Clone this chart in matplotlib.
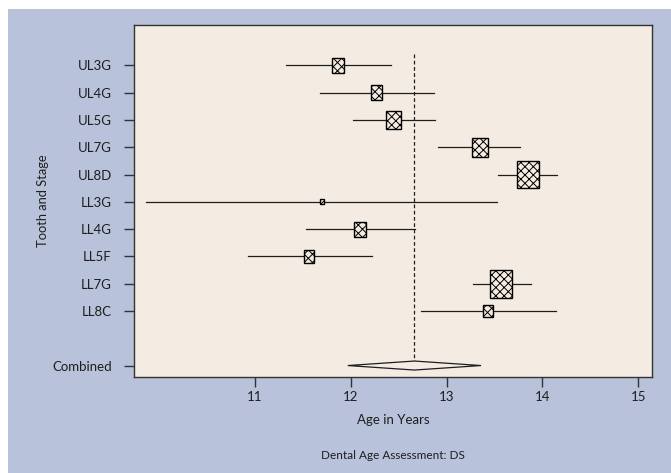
import matplotlib
matplotlib.use('Agg')
import matplotlib.pyplot as plt
from matplotlib.patches import Rectangle, Polygon

plt.rcParams['font.family'] = ['Lato', 'DejaVu Sans']
plt.rcParams['hatch.linewidth'] = 0.7

# 치아/단계별 추정 연령 (forest plot)
labels = ['UL3G', 'UL4G', 'UL5G', 'UL7G', 'UL8D', 'LL3G', 'LL4G', 'LL5F', 'LL7G', 'LL8C']
est = [11.87, 12.27, 12.45, 13.35, 13.85, 11.70, 12.10, 11.57, 13.57, 13.43]
lo = [11.33, 11.68, 12.02, 12.91, 13.54, 9.87, 11.53, 10.93, 13.28, 12.73]
hi = [12.42, 12.87, 12.88, 13.77, 14.15, 13.53, 12.67, 12.22, 13.88, 14.14]
box_w = [0.125, 0.118, 0.153, 0.160, 0.226, 0.040, 0.122, 0.104, 0.229, 0.104]  # 가중치(박스 크기)

comb_est = 12.665
comb_lo = 11.97
comb_hi = 13.36

xticks = [11, 12, 13, 14, 15]

blue = '#b8c2da'
cream = '#f4ece2'
ink = '#1e1e1e'

fig = plt.figure(figsize=(6.71, 4.73), dpi=100)
fig.patch.set_facecolor('white')
fig.patches.append(Rectangle((8 / 671, 0), 1, 1 - 9 / 473, transform=fig.transFigure,
                             facecolor=blue, edgecolor='none', zorder=-10))

ax = fig.add_axes([134 / 671, 1 - 377 / 473, (651.7 - 134) / 671, (377 - 25) / 473])
ax.set_facecolor(cream)

ypos = list(range(len(labels)))
comb_y = len(labels) + 1

# 신뢰구간 선
for i in range(len(labels)):
    ax.plot([lo[i], hi[i]], [ypos[i], ypos[i]], color=ink, lw=0.9, zorder=2)

# 가중치 박스 (격자 무늬)
for i in range(len(labels)):
    w = box_w[i]
    h = w * 4.46
    ax.add_patch(Rectangle((est[i] - w / 2, ypos[i] - h / 2), w, h, facecolor=cream,
                           edgecolor='black', hatch='xxxx', lw=1.0, zorder=3))

# 결합 추정치 (다이아몬드)
dh = 0.165
ax.add_patch(Polygon([[comb_lo, comb_y], [comb_est, comb_y - dh], [comb_hi, comb_y],
                      [comb_est, comb_y + dh]], closed=True, facecolor=cream,
                     edgecolor=ink, lw=0.9, zorder=3))

# 점선 기준선
ax.plot([comb_est, comb_est], [-0.42, comb_y - dh], color=ink, lw=0.9,
        ls=(0, (3, 2)), zorder=1)

ax.set_xlim(9.74, 15.14)
ax.set_ylim(11.42, -1.48)
ax.set_yticks(ypos + [comb_y])
ax.set_yticklabels(labels + ['Combined'])
ax.set_xticks(xticks)
ax.set_xticklabels([str(t) for t in xticks])
ax.tick_params(axis='both', direction='out', length=7, width=1, labelsize=9.5,
               color='#333333', labelcolor=ink)
ax.tick_params(axis='y', pad=9)
ax.tick_params(axis='x', pad=3)
for s in ax.spines.values():
    s.set_color('#333333')
    s.set_linewidth(1.0)

ax.set_ylabel('Tooth and Stage', fontsize=9.3, color=ink, labelpad=2)
ax.set_xlabel('Age in Years', fontsize=9.5, color=ink, labelpad=8)
fig.text(393 / 671, 1 - 455 / 473, 'Dental Age Assessment: DS', ha='center', va='center',
         fontsize=8.5, color=ink)

fig.savefig('out.png', dpi=100, facecolor=fig.get_facecolor())
